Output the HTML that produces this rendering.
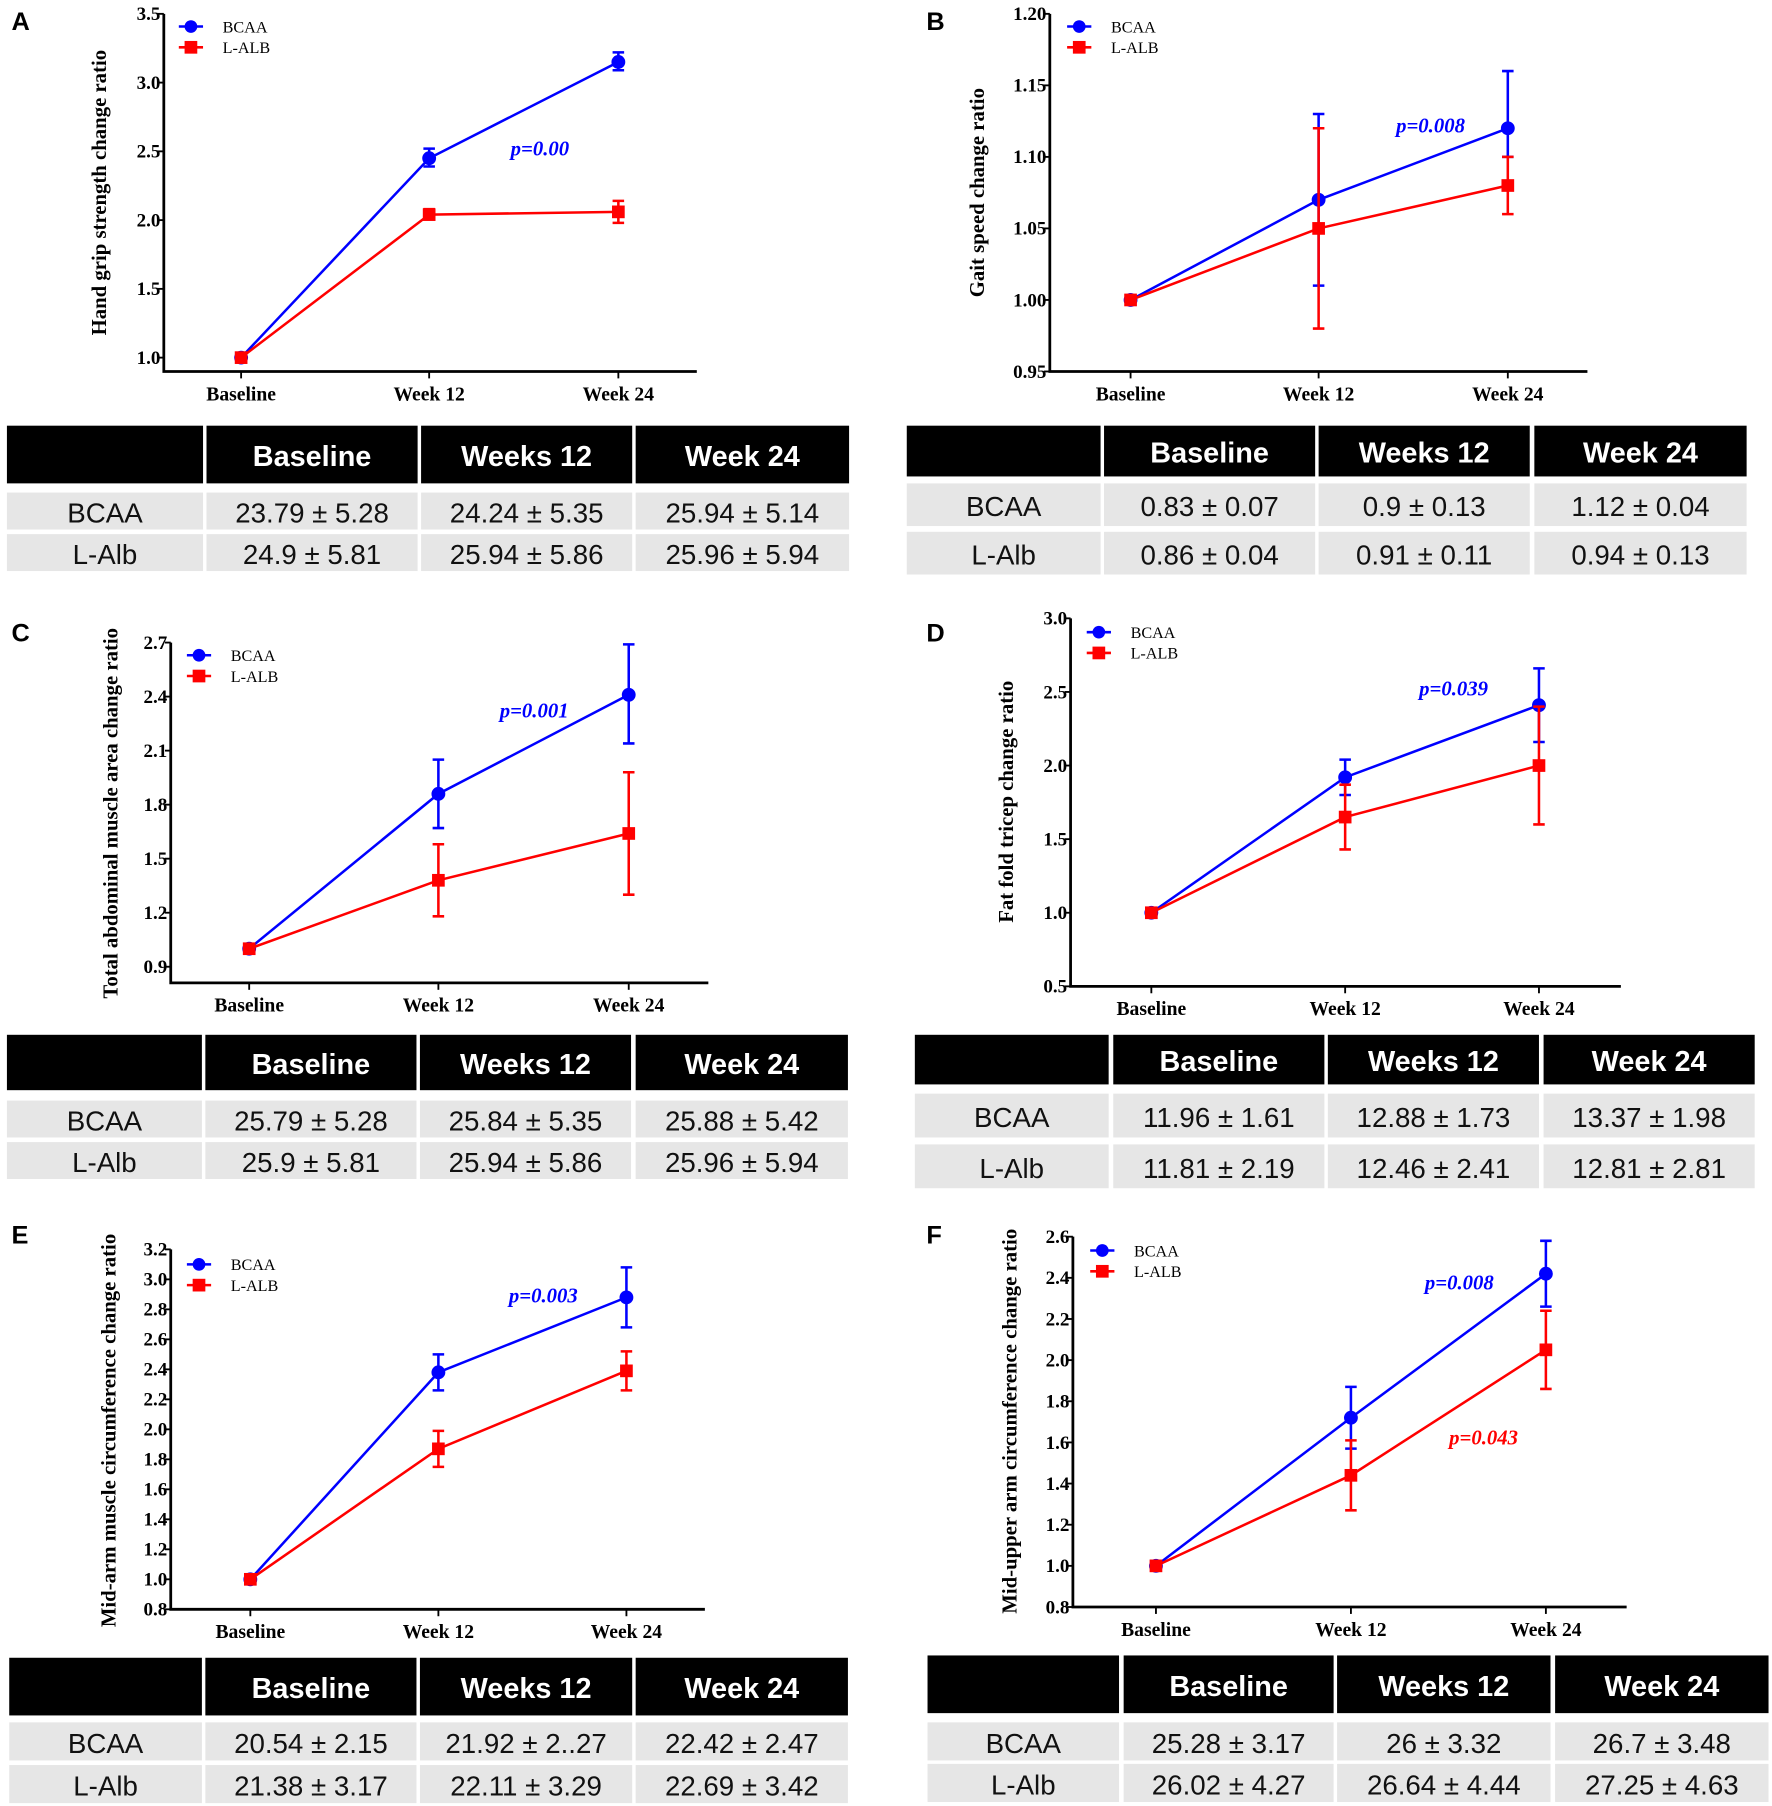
<!DOCTYPE html>
<html><head><meta charset="utf-8"><style>
html,body{margin:0;padding:0;background:#fff;}
svg{display:block;}
.tick{font-family:"Liberation Serif",serif;font-weight:bold;font-size:16.5px;fill:#000;}
.cat{font-family:"Liberation Serif",serif;font-weight:bold;font-size:17px;fill:#000;}
.ytitle{font-family:"Liberation Serif",serif;font-weight:bold;font-size:18px;fill:#000;}
.leg{font-family:"Liberation Serif",serif;font-size:14px;fill:#000;}
.pval{font-family:"Liberation Serif",serif;font-weight:bold;font-style:italic;font-size:18px;}
.plabel{font-family:"Liberation Sans",sans-serif;font-weight:bold;font-size:22px;fill:#000;}
.th{font-family:"Liberation Sans",sans-serif;font-weight:bold;font-size:25px;fill:#fff;}
.td{font-family:"Liberation Sans",sans-serif;font-size:24px;fill:#111;}
</style></head><body>
<svg id="fig" width="1772" height="1806" viewBox="0 0 1536 1565.5" preserveAspectRatio="none" xmlns="http://www.w3.org/2000/svg"></svg>
<script>
const categories = ["Baseline","Week 12","Week 24"];
const seriesNames = ["BCAA","L-ALB"];
// Panel A
const aTicks = [1.0,1.5,2.0,2.5,3.0,3.5];
const aBcaa = [1.0,2.45,3.15]; const aBcaaLo = [1.0,2.39,3.09]; const aBcaaHi = [1.0,2.52,3.22];
const aAlb = [1.0,2.04,2.06]; const aAlbLo = [1.0,2.01,1.98]; const aAlbHi = [1.0,2.08,2.14];
// Panel B
const bTicks = [0.95,1.00,1.05,1.10,1.15,1.20];
const bBcaa = [1.0,1.07,1.12]; const bBcaaLo = [1.0,1.01,1.10]; const bBcaaHi = [1.0,1.13,1.16];
const bAlb = [1.0,1.05,1.08]; const bAlbLo = [1.0,0.98,1.06]; const bAlbHi = [1.0,1.12,1.10];
// Panel C
const cTicks = [0.9,1.2,1.5,1.8,2.1,2.4,2.7];
const cBcaa = [1.0,1.86,2.41]; const cBcaaLo = [1.0,1.67,2.14]; const cBcaaHi = [1.0,2.05,2.69];
const cAlb = [1.0,1.38,1.64]; const cAlbLo = [1.0,1.18,1.30]; const cAlbHi = [1.0,1.58,1.98];
// Panel D
const dTicks = [0.5,1.0,1.5,2.0,2.5,3.0];
const dBcaa = [1.0,1.92,2.41]; const dBcaaLo = [1.0,1.80,2.16]; const dBcaaHi = [1.0,2.04,2.66];
const dAlb = [1.0,1.65,2.00]; const dAlbLo = [1.0,1.43,1.60]; const dAlbHi = [1.0,1.87,2.40];
// Panel E
const eTicks = [0.8,1.0,1.2,1.4,1.6,1.8,2.0,2.2,2.4,2.6,2.8,3.0,3.2];
const eBcaa = [1.0,2.38,2.88]; const eBcaaLo = [1.0,2.26,2.68]; const eBcaaHi = [1.0,2.50,3.08];
const eAlb = [1.0,1.87,2.39]; const eAlbLo = [1.0,1.75,2.26]; const eAlbHi = [1.0,1.99,2.52];
// Panel F
const fTicks = [0.8,1.0,1.2,1.4,1.6,1.8,2.0,2.2,2.4,2.6];
const fBcaa = [1.0,1.72,2.42]; const fBcaaLo = [1.0,1.57,2.26]; const fBcaaHi = [1.0,1.87,2.58];
const fAlb = [1.0,1.44,2.05]; const fAlbLo = [1.0,1.27,1.86]; const fAlbHi = [1.0,1.61,2.24];
// Tables
const tableHeaders = ["Baseline","Weeks 12","Week 24"];
const rowNames = ["BCAA","L-Alb"];
const tA = [["23.79 ± 5.28","24.24 ± 5.35","25.94 ± 5.14"],["24.9 ± 5.81","25.94 ± 5.86","25.96 ± 5.94"]];
const tB = [["0.83 ± 0.07","0.9 ± 0.13","1.12 ± 0.04"],["0.86 ± 0.04","0.91 ± 0.11","0.94 ± 0.13"]];
const tC = [["25.79 ± 5.28","25.84 ± 5.35","25.88 ± 5.42"],["25.9 ± 5.81","25.94 ± 5.86","25.96 ± 5.94"]];
const tD = [["11.96 ± 1.61","12.88 ± 1.73","13.37 ± 1.98"],["11.81 ±  2.19","12.46 ± 2.41","12.81 ± 2.81"]];
const tE = [["20.54 ± 2.15","21.92 ± 2..27","22.42 ± 2.47"],["21.38 ± 3.17","22.11 ± 3.29","22.69 ± 3.42"]];
const tF = [["25.28 ± 3.17","26 ± 3.32","26.7 ± 3.48"],["26.02 ± 4.27","26.64 ± 4.44","27.25 ± 4.63"]];

const NS="http://www.w3.org/2000/svg";
const svg=document.getElementById('fig');
function mk(tag,attrs,parent,text){const e=document.createElementNS(NS,tag);for(const k in attrs)e.setAttribute(k,attrs[k]);if(text!==undefined)e.textContent=text;(parent||svg).appendChild(e);return e;}

function chart(cfg){
  const g=mk('g',{});
  
  
  const axisY=cfg.axisY||cfg.yBot;
  const y0=cfg.ticks[0], y1=cfg.ticks[cfg.ticks.length-1];
  const ys=v=>cfg.yBot-(v-y0)/(y1-y0)*(cfg.yBot-cfg.yTop);
  const xs=i=>cfg.cx[i];
  const lbl=mk('text',{x:cfg.lx,y:cfg.ly,class:'plabel'},g,cfg.id.toUpperCase());
  
  
  const ax=mk('path',{d:`M${cfg.x0},${cfg.yTop} V${axisY} H${cfg.x1}`,stroke:'#000','stroke-width':2.4,fill:'none'},g);
  
  
  cfg.ticks.forEach(t=>{
    mk('line',{x1:cfg.x0-5,x2:cfg.x0,y1:ys(t),y2:ys(t),stroke:'#000','stroke-width':1.6},g);
    const tl=mk('text',{x:cfg.x0-3,y:ys(t)+5.5,class:'tick','text-anchor':'end'},g,t.toFixed(cfg.dec));
    
    
  });
  categories.forEach((c,i)=>{
    mk('line',{x1:xs(i),x2:xs(i),y1:axisY,y2:axisY+6,stroke:'#000','stroke-width':1.6},g);
    const cl=mk('text',{x:xs(i),y:axisY+25,class:'cat','text-anchor':'middle'},g,c);
    
    
  });
  const yt=mk('text',{x:0,y:0,class:'ytitle','text-anchor':'middle',transform:`translate(${cfg.tx},${cfg.ty}) rotate(-90)`},g,cfg.title);
  
  
  const series=[{v:cfg.b,lo:cfg.bl,hi:cfg.bh,c:'#0000ff',sq:false},{v:cfg.a,lo:cfg.al,hi:cfg.ah,c:'#ff0000',sq:true}];
  series.forEach((s,si)=>{
    const sg=mk('g',{},g);
    
    
    const pts=s.v.map((v,i)=>xs(i)+','+ys(v)).join(' ');
    const pl=mk('polyline',{points:pts,fill:'none',stroke:s.c,'stroke-width':2.2},sg);
    
    
    s.v.forEach((v,i)=>{
      if(s.hi[i]!==s.lo[i]){
        const eb=mk('path',{d:`M${xs(i)},${ys(s.lo[i])} V${ys(s.hi[i])} M${xs(i)-5},${ys(s.lo[i])} h10 M${xs(i)-5},${ys(s.hi[i])} h10`,stroke:s.c,'stroke-width':2.2,fill:'none'},sg);
        
        
      }
      let m;
      if(s.sq) m=mk('rect',{x:xs(i)-5.5,y:ys(v)-5.5,width:11,height:11,fill:s.c},sg);
      else m=mk('circle',{cx:xs(i),cy:ys(v),r:6,fill:s.c},sg);
      
      
    });
  });
  const lg=mk('g',{},g);
  
  
  [['#0000ff',false],['#ff0000',true]].forEach((d,i)=>{
    const y=cfg.legY+i*18;
    const le=mk('g',{},lg);
    
    
    mk('line',{x1:cfg.legX,x2:cfg.legX+21,y1:y,y2:y,stroke:d[0],'stroke-width':2.2},le);
    if(d[1]) mk('rect',{x:cfg.legX+5,y:y-5.5,width:11,height:11,fill:d[0]},le);
    else mk('circle',{cx:cfg.legX+10.5,cy:y,r:5.5,fill:d[0]},le);
    mk('text',{x:cfg.legX+38,y:y+5,class:'leg'},le,seriesNames[i]);
  });
  (cfg.p||[]).forEach(p=>{
    const pt=mk('text',{x:p[0],y:p[1],class:'pval',fill:p[3],'text-anchor':'middle'},g,p[2]);
    
    
  });
}

function table(id,cols,hy,hh,r1,r2,rh,data){
  const g=mk('g',{});
  
  
  for(let c=0;c<4;c++){
    const cx0=cols[c][0],w=cols[c][1]-cols[c][0];
    mk('rect',{x:cx0,y:hy,width:w,height:hh,fill:'#000'},g);
    if(c>0){
      const t=mk('text',{x:cx0+w/2,y:hy+hh/2+10,class:'th','text-anchor':'middle'},g,tableHeaders[c-1]);
      
      
    }
    [r1,r2].forEach((ry,ri)=>{
      mk('rect',{x:cx0,y:ry,width:w,height:rh,fill:'#e6e6e6'},g);
      const txt=c===0?rowNames[ri]:data[ri][c-1];
      const t=mk('text',{x:cx0+w/2,y:ry+rh/2+10,class:'td','text-anchor':'middle','font-size':c===0?28:25},g,txt);
      
      
    });
  }
}

chart({id:'a',lx:10,ly:26,x0:142,x1:604,yTop:12,yBot:310,axisY:322,ticks:aTicks,dec:1,cx:[209,372,536],
  tx:92,ty:167,title:'Hand grip strength change ratio',legX:155,legY:23,
  b:aBcaa,bl:aBcaaLo,bh:aBcaaHi,a:aAlb,al:aAlbLo,ah:aAlbHi,p:[[468,135,'p=0.00','#0000ff']]});
chart({id:'b',lx:803,ly:26,x0:910,x1:1376,yTop:12,yBot:322,ticks:bTicks,dec:2,cx:[980,1143,1307],
  tx:853,ty:167,title:'Gait speed change ratio',legX:925,legY:23,
  b:bBcaa,bl:bBcaaLo,bh:bBcaaHi,a:bAlb,al:bAlbLo,ah:bAlbHi,p:[[1240,115,'p=0.008','#0000ff']]});
chart({id:'c',lx:10,ly:556,x0:148,x1:614,yTop:557,yBot:838,axisY:852,ticks:cTicks,dec:1,cx:[216,380,545],
  tx:102,ty:705,title:'Total abdominal muscle area change ratio',legX:162,legY:568,
  b:cBcaa,bl:cBcaaLo,bh:cBcaaHi,a:cAlb,al:cAlbLo,ah:cAlbHi,p:[[463,622,'p=0.001','#0000ff']]});
chart({id:'d',lx:803,ly:556,x0:928,x1:1405,yTop:536,yBot:855,ticks:dTicks,dec:1,cx:[998,1166,1334],
  tx:878,ty:695,title:'Fat fold tricep change ratio',legX:942,legY:548,
  b:dBcaa,bl:dBcaaLo,bh:dBcaaHi,a:dAlb,al:dAlbLo,ah:dAlbHi,p:[[1260,603,'p=0.039','#0000ff']]});
chart({id:'e',lx:10,ly:1078,x0:148,x1:611,yTop:1083,yBot:1395,ticks:eTicks,dec:1,cx:[217,380,543],
  tx:100,ty:1240,title:'Mid-arm muscle circumference change ratio',legX:162,legY:1096,
  b:eBcaa,bl:eBcaaLo,bh:eBcaaHi,a:eAlb,al:eAlbLo,ah:eAlbHi,p:[[471,1129,'p=0.003','#0000ff']]});
chart({id:'f',lx:803,ly:1078,x0:930,x1:1410,yTop:1072,yBot:1393,ticks:fTicks,dec:1,cx:[1002,1171,1340],
  tx:881,ty:1232,title:'Mid-upper arm circumference change ratio',legX:945,legY:1084,
  b:fBcaa,bl:fBcaaLo,bh:fBcaaHi,a:fAlb,al:fAlbLo,ah:fAlbHi,p:[[1265,1118,'p=0.008','#0000ff'],[1286,1252,'p=0.043','#ff0000']]});

table('a',[[6,176],[179,362],[365,548],[551,736]],369,50,427,463,32,tA);
table('b',[[786,954],[957,1140],[1143,1326],[1330,1514]],369,44,419,461,37,tB);
table('c',[[6,175],[178,361],[364,547],[551,735]],897,48,954,990,32,tC);
table('d',[[793,961],[965,1148],[1151,1334],[1338,1521]],897,43,948,992,38,tD);
table('e',[[8,175],[178,361],[364,548],[551,735]],1437,50,1493,1530,33,tE);
table('f',[[804,970],[974,1156],[1159,1344],[1348,1533]],1435,50,1493,1529,33,tF);
</script>
</body></html>
